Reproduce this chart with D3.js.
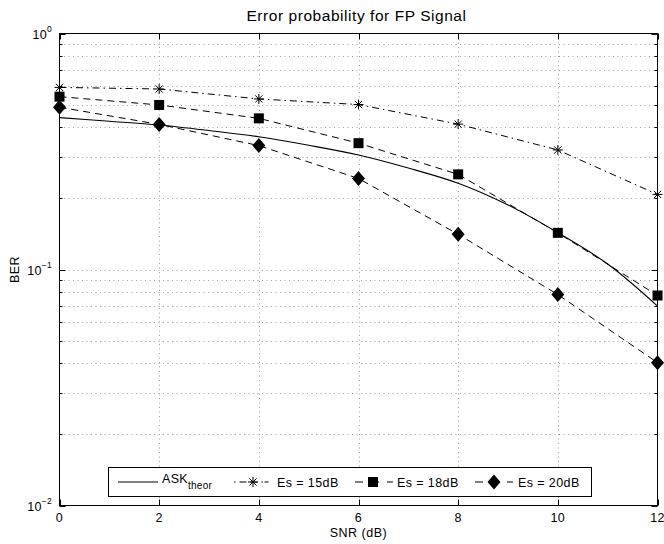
<!DOCTYPE html>
<html>
<head>
<meta charset="utf-8">
<script src="https://cdn.jsdelivr.net/npm/d3@7"></script>
<style>
  html, body { margin: 0; padding: 0; background: #fff; }
  svg { display: block; font-family: "Liberation Sans", Arial, Helvetica, sans-serif; }
</style>
</head>
<body>
<svg id="chart" width="664" height="544"></svg>
<script>
// ---- data ----
const snrMarkers = [0, 2, 4, 6, 8, 10, 12];
const es15 = [0.591, 0.582, 0.528, 0.500, 0.413, 0.321, 0.208];
const es18 = [0.540, 0.498, 0.437, 0.343, 0.253, 0.143, 0.0776];
const es20 = [0.487, 0.412, 0.335, 0.243, 0.141, 0.0783, 0.0403];
const snrTheor = [0, 1, 2, 3, 4, 5, 6, 7, 8, 9, 10, 11, 12];
const askTheor = [0.440, 0.425, 0.4095, 0.388, 0.365, 0.336, 0.3055, 0.269, 0.232, 0.1877, 0.1432, 0.1055, 0.0700];
const xTicks = [0, 2, 4, 6, 8, 10, 12];
const yTickExps = [0, -1, -2];
const titleText = "Error probability for FP Signal";
const xLabel = "SNR (dB)";
const yLabel = "BER";

// ---- layout ----
const svg = d3.select("#chart");
const L = 59.5, R = 657.5, T = 33.5, B = 505.5;
const x = d3.scaleLinear().domain([0, 12]).range([L, R]);
const y = d3.scaleLog().domain([0.01, 1]).range([B, T]);

// grid
const minorVals = [];
for (let e = -2; e < 0; e++) for (let m = 1; m <= 9; m++) minorVals.push(m * Math.pow(10, e));
minorVals.push(1);
const grid = svg.append("g").attr("stroke", "#a0a0a0").attr("stroke-width", 1).attr("stroke-dasharray", "1,3.5");
minorVals.filter(v => v > 0.0100001 && v < 0.99999).forEach(v => {
  grid.append("line").attr("x1", L).attr("x2", R).attr("y1", Math.round(y(v)) + 0.5).attr("y2", Math.round(y(v)) + 0.5);
});
xTicks.filter(t => t > 0 && t < 12).forEach(t => {
  grid.append("line").attr("x1", Math.round(x(t)) + 0.5).attr("x2", Math.round(x(t)) + 0.5).attr("y1", T).attr("y2", B);
});

// axes box
const ax = svg.append("g").attr("stroke", "#000").attr("stroke-width", 1).attr("fill", "none");
ax.append("rect").attr("x", L).attr("y", T).attr("width", R - L).attr("height", B - T);
xTicks.forEach(t => {
  const px = Math.round(x(t)) + 0.5;
  ax.append("line").attr("x1", px).attr("x2", px).attr("y1", B).attr("y2", B - 6);
  ax.append("line").attr("x1", px).attr("x2", px).attr("y1", T).attr("y2", T + 6);
});
minorVals.forEach(v => {
  const py = Math.round(y(v)) + 0.5;
  const isMajor = Math.abs(Math.log10(v) - Math.round(Math.log10(v))) < 1e-6;
  const len = isMajor ? 6 : 3;
  ax.append("line").attr("x1", L).attr("x2", L + len).attr("y1", py).attr("y2", py);
  ax.append("line").attr("x1", R).attr("x2", R - len).attr("y1", py).attr("y2", py);
});

// tick labels
const tl = svg.append("g").attr("font-size", 12.5).attr("letter-spacing", 0.3).attr("fill", "#000");
xTicks.forEach(t => {
  tl.append("text").attr("x", x(t)).attr("y", 522).attr("text-anchor", "middle").text(t);
});
yTickExps.forEach(e => {
  const py = y(Math.pow(10, e));
  const t = tl.append("text").attr("x", 52).attr("y", py + 5).attr("text-anchor", "end");
  t.append("tspan").text("10");
  t.append("tspan").attr("font-size", 8.5).attr("dy", -7).text(e === 0 ? "0" : "\u2212" + (-e));
});

// axis labels + title
svg.append("text").attr("x", (L + R) / 2).attr("y", 536.5).attr("text-anchor", "middle").attr("font-size", 12.5).attr("letter-spacing", 0.5).text(xLabel);
svg.append("text").attr("transform", `translate(19,${(T + B) / 2}) rotate(-90)`).attr("text-anchor", "middle").attr("font-size", 12.5).attr("letter-spacing", 0.5).text(yLabel);
svg.append("text").attr("x", (L + R) / 2 - 2).attr("y", 20.5).attr("text-anchor", "middle").attr("font-size", 15.5).attr("letter-spacing", 0.55).text(titleText);

// lines
const plot = svg.append("g");
const lineGen = d3.line().x(d => x(d[0])).y(d => y(d[1]));
const smooth = d3.line().x(d => x(d[0])).y(d => y(d[1])).curve(d3.curveCatmullRom);
plot.append("path").datum(snrTheor.map((s, i) => [s, askTheor[i]]))
  .attr("d", smooth).attr("fill", "none").attr("stroke", "#000").attr("stroke-width", 1.1);
plot.append("path").datum(snrMarkers.map((s, i) => [s, es15[i]]))
  .attr("d", lineGen).attr("fill", "none").attr("stroke", "#000").attr("stroke-width", 1).attr("stroke-dasharray", "7,4,1.5,4");
plot.append("path").datum(snrMarkers.map((s, i) => [s, es18[i]]))
  .attr("d", lineGen).attr("fill", "none").attr("stroke", "#000").attr("stroke-width", 1).attr("stroke-dasharray", "7,5");
plot.append("path").datum(snrMarkers.map((s, i) => [s, es20[i]]))
  .attr("d", lineGen).attr("fill", "none").attr("stroke", "#000").attr("stroke-width", 1).attr("stroke-dasharray", "7,5");

// markers
function star(g, cx, cy) {
  const r = 5;
  const s = g.append("g").attr("stroke", "#000").attr("stroke-width", 1);
  s.append("line").attr("x1", cx - r).attr("x2", cx + r).attr("y1", cy).attr("y2", cy);
  s.append("line").attr("x1", cx).attr("x2", cx).attr("y1", cy - r).attr("y2", cy + r);
  const d = r * 0.72;
  s.append("line").attr("x1", cx - d).attr("x2", cx + d).attr("y1", cy - d).attr("y2", cy + d);
  s.append("line").attr("x1", cx - d).attr("x2", cx + d).attr("y1", cy + d).attr("y2", cy - d);
}
function square(g, cx, cy) {
  g.append("rect").attr("x", cx - 5).attr("y", cy - 5).attr("width", 10).attr("height", 10).attr("fill", "#000");
}
function diamond(g, cx, cy) {
  g.append("path").attr("d", `M${cx},${cy - 7.5}L${cx + 6.5},${cy}L${cx},${cy + 7.5}L${cx - 6.5},${cy}Z`).attr("fill", "#000");
}
const mk = svg.append("g");
snrMarkers.forEach((s, i) => star(mk, x(s), y(es15[i])));
snrMarkers.forEach((s, i) => square(mk, x(s), y(es18[i])));
snrMarkers.forEach((s, i) => diamond(mk, x(s), y(es20[i])));

// legend
const lg = svg.append("g");
lg.append("rect").attr("x", 108.5).attr("y", 467.5).attr("width", 483).attr("height", 29).attr("fill", "#fff").attr("stroke", "#000").attr("stroke-width", 1);
const ly = 482;
lg.append("line").attr("x1", 118).attr("x2", 158).attr("y1", ly).attr("y2", ly).attr("stroke", "#000").attr("stroke-width", 1.1);
const tA = lg.append("text").attr("x", 162).attr("y", ly + 1).attr("font-size", 12.5).attr("letter-spacing", 0.3);
tA.append("tspan").text("ASK");
tA.append("tspan").attr("font-size", 10).attr("dy", 6).text("theor");
lg.append("line").attr("x1", 234).attr("x2", 271).attr("y1", ly).attr("y2", ly).attr("stroke", "#000").attr("stroke-dasharray", "1.5,4,7,4,7,4,1.5");
star(lg, 253, ly);
lg.append("text").attr("x", 277).attr("y", ly + 4.5).attr("font-size", 12.5).attr("letter-spacing", 0.4).text("Es = 15dB");
lg.append("line").attr("x1", 355).attr("x2", 393).attr("y1", ly).attr("y2", ly).attr("stroke", "#000").attr("stroke-dasharray", "8,8");
square(lg, 373, ly);
lg.append("text").attr("x", 397).attr("y", ly + 4.5).attr("font-size", 12.5).attr("letter-spacing", 0.4).text("Es = 18dB");
lg.append("line").attr("x1", 475).attr("x2", 513).attr("y1", ly).attr("y2", ly).attr("stroke", "#000").attr("stroke-dasharray", "8,8");
diamond(lg, 494, ly);
lg.append("text").attr("x", 518).attr("y", ly + 4.5).attr("font-size", 12.5).attr("letter-spacing", 0.4).text("Es = 20dB");
</script>
</body>
</html>
